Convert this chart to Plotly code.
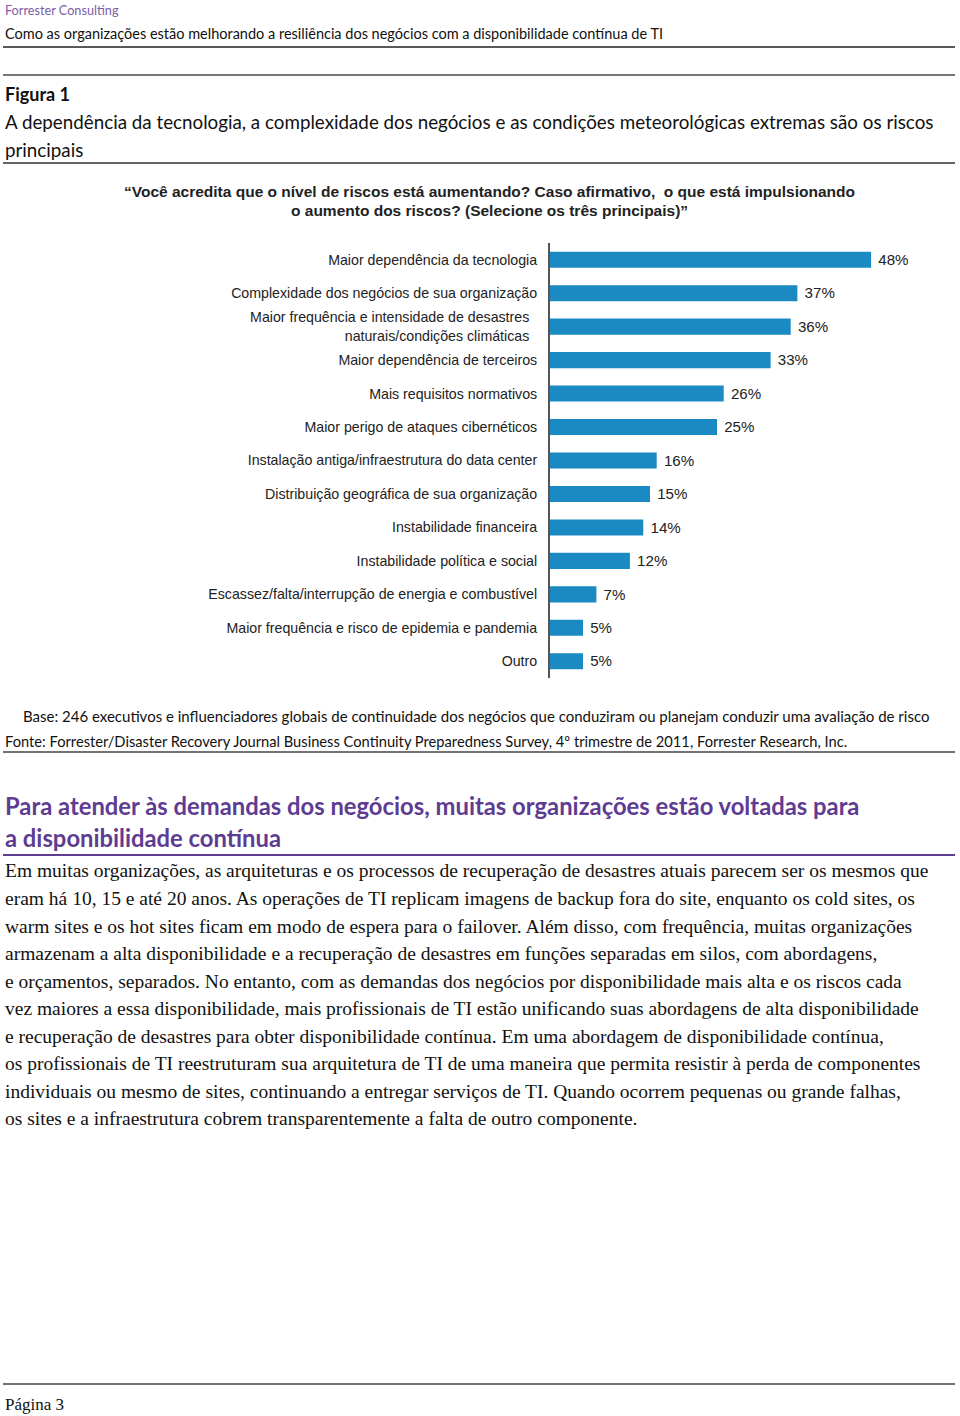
import plotly.graph_objects as go

W, H = 960, 1416

categories = [
    "Maior dependência da tecnologia",
    "Complexidade dos negócios de sua organização",
    "Maior frequência e intensidade de desastres<br>naturais/condições climáticas",
    "Maior dependência de terceiros",
    "Mais requisitos normativos",
    "Maior perigo de ataques cibernéticos",
    "Instalação antiga/infraestrutura do data center",
    "Distribuição geográfica de sua organização",
    "Instabilidade financeira",
    "Instabilidade política e social",
    "Escassez/falta/interrupção de energia e combustível",
    "Maior frequência e risco de epidemia e pandemia",
    "Outro",
]
values = [48, 37, 36, 33, 26, 25, 16, 15, 14, 12, 7, 5, 5]

header_brand = "Forrester Consulting"
header_title = "Como as organizações estão melhorando a resiliência dos negócios com a disponibilidade contínua de TI"
fig_label = "Figura 1"
fig_title_lines = [
    "A dependência da tecnologia, a complexidade dos negócios e as condições meteorológicas extremas são os riscos",
    "principais",
]
question_lines = [
    "“Você acredita que o nível de riscos está aumentando? Caso afirmativo,  o que está impulsionando",
    "o aumento dos riscos? (Selecione os três principais)”",
]
base_text = "Base: 246 executivos e influenciadores globais de continuidade dos negócios que conduziram ou planejam conduzir uma avaliação de risco"
source_text = "Fonte: Forrester/Disaster Recovery Journal Business Continuity Preparedness Survey, 4º trimestre de 2011, Forrester Research, Inc."
section_title_lines = [
    "Para atender às demandas dos negócios, muitas organizações estão voltadas para",
    "a disponibilidade contínua",
]
body_lines = [
    "Em muitas organizações, as arquiteturas e os processos de recuperação de desastres atuais parecem ser os mesmos que",
    "eram há 10, 15 e até 20 anos. As operações de TI replicam imagens de backup fora do site, enquanto os cold sites, os",
    "warm sites e os hot sites ficam em modo de espera para o failover. Além disso, com frequência, muitas organizações",
    "armazenam a alta disponibilidade e a recuperação de desastres em funções separadas em silos, com abordagens,",
    "e orçamentos, separados. No entanto, com as demandas dos negócios por disponibilidade mais alta e os riscos cada",
    "vez maiores a essa disponibilidade, mais profissionais de TI estão unificando suas abordagens de alta disponibilidade",
    "e recuperação de desastres para obter disponibilidade contínua. Em uma abordagem de disponibilidade contínua,",
    "os profissionais de TI reestruturam sua arquitetura de TI de uma maneira que permita resistir à perda de componentes",
    "individuais ou mesmo de sites, continuando a entregar serviços de TI. Quando ocorrem pequenas ou grande falhas,",
    "os sites e a infraestrutura cobrem transparentemente a falta de outro componente.",
]
page_label = "Página 3"

BAR = "#1b8ac3"
PURPLE = "#5d3c92"
SANS = "Myriad Pro, Lato, Noto Sans, sans-serif"
ARIAL = "Liberation Sans, Arial, sans-serif"
SERIF = "Liberation Serif, Times New Roman, serif"
NB = "\u00a0"


def px(x):
    return x / W


def py(y):
    return 1 - y / H


# tick texts: the two-line label sits slightly left of the others
ticktext = []
for c in categories:
    if "<br>" in c:
        ticktext.append("<br>".join(part + NB * 2 for part in c.split("<br>")))
    else:
        ticktext.append(c)

fig = go.Figure()
fig.add_trace(go.Bar(
    y=categories,
    x=values,
    orientation="h",
    marker=dict(color=BAR, line=dict(width=0)),
    texttemplate=NB + "%{x}%",
    textposition="outside",
    textfont=dict(family=ARIAL, size=16, color="#222"),
    cliponaxis=False,
    hoverinfo="skip",
))

x0, x1 = 549.5, 950
y_top, y_bot = 243, 678
scale = 6.7

fig.update_layout(
    width=W, height=H,
    margin=dict(l=0, r=0, t=0, b=0),
    paper_bgcolor="white", plot_bgcolor="white",
    showlegend=False,
    bargap=0.52,
    xaxis=dict(domain=[px(x0), px(x1)], range=[0, (x1 - x0) / scale],
               visible=False, fixedrange=True),
    yaxis=dict(domain=[py(y_bot), py(y_top)], autorange="reversed",
               categoryorder="array", categoryarray=categories,
               tickmode="array", tickvals=categories, ticktext=ticktext,
               showline=True, linecolor="#555", linewidth=1.5,
               ticks="", showgrid=False, ticklabelstandoff=8,
               tickfont=dict(family=ARIAL, size=14.2, color="#222"),
               fixedrange=True),
)

ann = []


def text(x, y, s, size, color="#111", family=SANS, anchor="left", bold=False):
    if bold:
        s = "<b>" + s + "</b>"
    ann.append(dict(x=px(x), y=py(y), xref="paper", yref="paper", text=s,
                    showarrow=False, xanchor=anchor, yanchor="middle",
                    font=dict(family=family, size=size, color=color)))


LX = 3
text(LX, 10, header_brand, 12.7, color="#7b5ea7")
text(LX, 34, header_title, 14.5)
text(LX, 94, fig_label, 18, bold=True)
text(LX, 121, fig_title_lines[0], 18.8)
text(LX, 149, fig_title_lines[1], 18.8)
text(490, 191, question_lines[0], 15.5, family=ARIAL, anchor="center", bold=True, color="#222")
text(490, 210, question_lines[1], 15.5, family=ARIAL, anchor="center", bold=True, color="#222")
text(21, 716, base_text, 15)
text(LX, 741, source_text, 14.7)
text(LX, 806, section_title_lines[0], 23.8, color=PURPLE, bold=True)
text(LX, 838, section_title_lines[1], 23.8, color=PURPLE, bold=True)
for i, line in enumerate(body_lines):
    text(LX, 871 + i * 27.5, line, 19.5, family=SERIF)
text(LX, 1404, page_label, 17, family=SERIF)

shapes = []


def hline(y, color, width, xa=3, xb=955):
    shapes.append(dict(type="line", xref="paper", yref="paper",
                       x0=px(xa), x1=px(xb), y0=py(y), y1=py(y),
                       line=dict(color=color, width=width)))


hline(47, "#222", 1.5)
hline(75, "#777", 2)
hline(163, "#333", 1.5)
hline(752, "#444", 1.5)
hline(855, PURPLE, 2)
hline(1384, "#444", 1.5)

fig.update_layout(annotations=ann, shapes=shapes)
fig.write_html("out.html", config={"displayModeBar": False, "staticPlot": True},
               post_script="document.body.style.margin='0';document.body.style.overflow='hidden';")
